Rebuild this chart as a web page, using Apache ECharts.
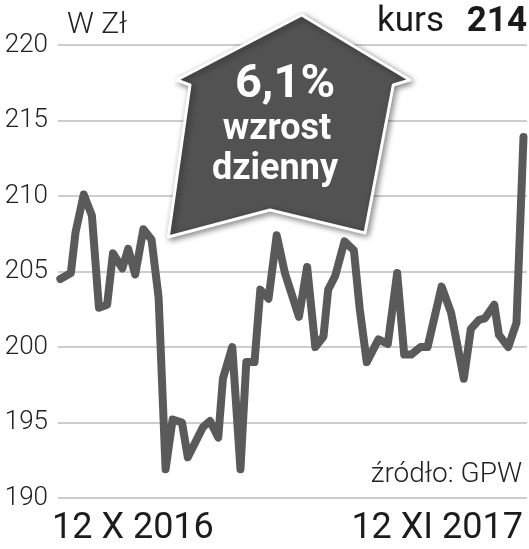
<!DOCTYPE html>
<html>
<head>
<meta charset="utf-8">
<script src="https://cdn.jsdelivr.net/npm/echarts@6/dist/echarts.min.js"></script>
<style>html,body{margin:0;padding:0;background:#fff}#c{width:529px;height:549px}</style>
</head>
<body>
<div id="c"></div>
<script>
// day index along the period (axis 0..401)
const dayIndex = [2, 11, 15, 22, 29, 35, 42, 47, 55, 60, 66, 73, 80, 86, 92, 98, 106, 111, 124, 130, 137, 141, 149, 156, 161, 168, 173, 180, 187, 194, 206, 213, 220, 227, 231, 237, 245, 253, 258, 264, 274, 282, 290, 296, 302, 310, 316, 328, 336, 347, 353, 360, 365, 373, 377, 385, 392, 398];
const price = [204.5, 204.9, 207.6, 210.1, 208.7, 202.6, 202.8, 206.2, 205.2, 206.5, 204.8, 207.8, 207.1, 203.3, 191.9, 195.2, 195.0, 192.7, 194.7, 195.1, 194.0, 197.9, 200.0, 191.9, 199.0, 199.0, 203.8, 203.2, 207.4, 204.9, 202.0, 205.3, 200.0, 200.7, 203.8, 204.7, 207.0, 206.4, 202.5, 199.0, 200.5, 200.2, 204.9, 199.5, 199.5, 200.0, 200.0, 204.0, 202.3, 197.9, 201.2, 201.8, 201.9, 202.8, 200.8, 200.0, 201.6, 213.9];
const xLabels = ['12 X 2016', '12 XI 2017'];
const yTicks = [190, 195, 200, 205, 210, 215, 220];
const unitLabel = 'W Zł';
const kursLabel = 'kurs';
const kursValue = '214';
const badgeLines = ['6,1%', 'wzrost', 'dzienny'];
const sourceLabel = 'źródło: GPW';

const chart = echarts.init(document.getElementById('c'), null, {renderer: 'canvas'});
const F = 'Roboto, "Liberation Sans", sans-serif';
chart.setOption({
  animation: false,
  grid: {left: 58, right: 2, top: 45, bottom: 51, containLabel: false},
  xAxis: {
    type: 'value', min: 0, max: 401, interval: 401,
    axisLine: {show: false}, axisTick: {show: false}, splitLine: {show: false},
    axisLabel: {
      margin: 13, fontSize: 36, color: '#1c1c1c', fontFamily: F,
      alignMinLabel: 'left', alignMaxLabel: 'right',
      formatter: v => v === 0 ? '{l|' + xLabels[0] + '}' : '{r|' + xLabels[1] + '}',
      rich: {
        l: {fontSize: 36, fontFamily: F, color: '#1c1c1c', padding: [0, 0, 0, -6]},
        r: {fontSize: 36, fontFamily: F, color: '#1c1c1c', padding: [0, 4, 0, 0]}
      }
    }
  },
  yAxis: {
    type: 'value', min: yTicks[0], max: yTicks[yTicks.length - 1], interval: 5,
    axisLine: {show: false}, axisTick: {show: false},
    splitLine: {show: true, lineStyle: {color: '#bdbdbd', width: 1.5}},
    axisLabel: {margin: 10, fontSize: 26, color: '#222', fontFamily: F, fontWeight: 300}
  },
  series: [{
    type: 'line',
    data: dayIndex.map((d, i) => [d, price[i]]),
    showSymbol: false,
    lineStyle: {color: '#5a5a5a', width: 8, cap: 'round', join: 'round'},
    z: 2
  }],
  graphic: [
    {type: 'text', left: 67, top: 10, style: {text: unitLabel, fontSize: 30, fontFamily: F, fontWeight: 300, fill: '#222'}},
    {type: 'text', x: 377, y: 22, style: {text: kursLabel, fontSize: 35, fontFamily: F, fill: '#1a1a1a', verticalAlign: 'middle'}},
    {type: 'text', x: 527, y: 22, style: {text: kursValue, fontSize: 35, fontFamily: F, fontWeight: 'bold', fill: '#1a1a1a', align: 'right', verticalAlign: 'middle'}},
    {type: 'text', x: 522, y: 475, style: {text: sourceLabel, fontSize: 28, fontFamily: F, fontWeight: 300, fill: '#222', align: 'right', verticalAlign: 'middle'}},
    {type: 'polygon', z: 100,
      shape: {points: [[301.7,15],[410,80],[393.3,85],[365,233],[270,210],[168.3,237],[190,85],[176.7,80]]},
      style: {fill: '#525252', stroke: '#ffffff', lineWidth: 3, lineJoin: 'round', shadowBlur: 6, shadowOffsetX: 2, shadowOffsetY: 2, shadowColor: 'rgba(0,0,0,0.45)'}},
    {type: 'text', z: 101, x: 285, y: 85, style: {text: badgeLines[0], fontSize: 47, fontFamily: F, fontWeight: 'bold', fill: '#fff', align: 'center', verticalAlign: 'middle'}},
    {type: 'text', z: 101, x: 277, y: 130, style: {text: badgeLines[1], fontSize: 36, fontFamily: F, fontWeight: 'bold', fill: '#fff', align: 'center', verticalAlign: 'middle'}},
    {type: 'text', z: 101, x: 275, y: 170, style: {text: badgeLines[2], fontSize: 36, fontFamily: F, fontWeight: 'bold', fill: '#fff', align: 'center', verticalAlign: 'middle'}}
  ]
});
</script>
</body>
</html>
